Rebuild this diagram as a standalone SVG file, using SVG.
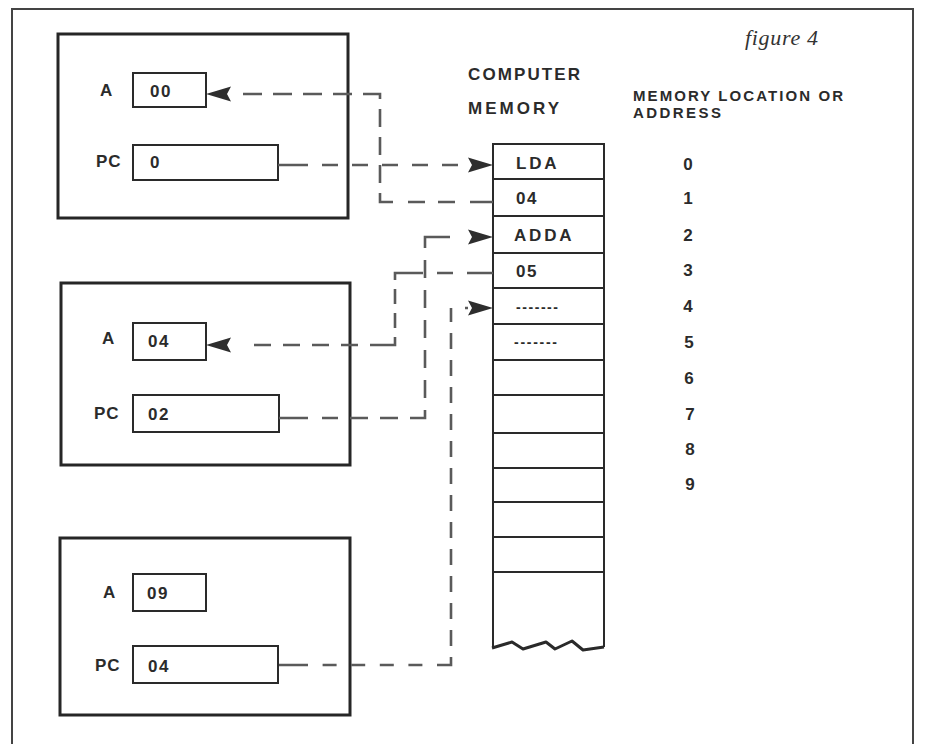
<svg xmlns="http://www.w3.org/2000/svg" xmlns:xlink="http://www.w3.org/1999/xlink" width="925" height="744" viewBox="0 0 925 744">
<style>
.frame{fill:none;stroke:#444;stroke-width:2}
.outer{fill:none;stroke:#262626;stroke-width:3}
.reg{fill:none;stroke:#2a2a2a;stroke-width:2}
.mem{fill:none;stroke:#2a2a2a;stroke-width:2}
.zig{fill:none;stroke:#2a2a2a;stroke-width:3;stroke-linejoin:round}
.conn{fill:none;stroke:#5a5a5a;stroke-width:2.6;stroke-linecap:butt;stroke-linejoin:miter}
.arr{fill:#2e2e2e}
.t{font-family:"Liberation Sans",Arial,Helvetica,sans-serif;font-weight:bold;fill:#2b2b2b}
.lbl{font-size:17px;letter-spacing:1px}
.val{font-size:17px;letter-spacing:1.5px}
.hdr{font-size:17px}
.hdr2{font-size:15px}
.num{font-size:17px;text-anchor:middle}
.dots{font-size:14px}
.fig{font-family:"Liberation Serif","Times New Roman",serif;font-style:italic;font-size:22px;fill:#333}
</style>
<defs>
<path id="arrowR" d="M0,0 L-25,-7.5 L-21,0 L-25,7.5 Z"/>
</defs>
<rect width="925" height="744" fill="#ffffff"/>
<path class="frame" d="M12,744 V9 H913 V744"/>

<g id="title">
<text class="fig" x="745" y="45" textLength="73" lengthAdjust="spacing">figure 4</text>
</g>

<g id="headers">
<text class="t hdr" x="468" y="80" textLength="112" lengthAdjust="spacing">COMPUTER</text>
<text class="t hdr" x="468" y="114" textLength="91" lengthAdjust="spacing">MEMORY</text>
<text class="t hdr2" x="633" y="101" textLength="210" lengthAdjust="spacing">MEMORY LOCATION OR</text>
<text class="t hdr2" x="633" y="118" textLength="88" lengthAdjust="spacing">ADDRESS</text>
</g>

<g id="state1">
<rect class="outer" x="58" y="34" width="290" height="184"/>
<text class="t lbl" x="100" y="96">A</text>
<rect class="reg" x="133" y="73" width="73" height="34"/>
<text class="t val" x="150" y="97">00</text>
<text class="t lbl" x="96" y="167">PC</text>
<rect class="reg" x="133" y="145" width="145" height="35"/>
<text class="t val" x="150" y="168">0</text>
</g>

<g id="state2">
<rect class="outer" x="61" y="283" width="289" height="182"/>
<text class="t lbl" x="102" y="344">A</text>
<rect class="reg" x="133" y="323" width="73" height="37"/>
<text class="t val" x="148" y="347">04</text>
<text class="t lbl" x="94" y="419">PC</text>
<rect class="reg" x="133" y="395" width="146" height="37"/>
<text class="t val" x="148" y="420">02</text>
</g>

<g id="state3">
<rect class="outer" x="60" y="538" width="290" height="177"/>
<text class="t lbl" x="103" y="598">A</text>
<rect class="reg" x="133" y="574" width="73" height="37"/>
<text class="t val" x="147" y="599">09</text>
<text class="t lbl" x="95" y="671">PC</text>
<rect class="reg" x="133" y="646" width="145" height="37"/>
<text class="t val" x="148" y="672">04</text>
</g>

<g id="memory">
<path class="mem" d="M493,648 V144 H604 V647"/>
<path class="mem" d="M493,179 H604 M493,216 H604 M493,253 H604 M493,288 H604 M493,324 H604 M493,360 H604 M493,395 H604 M493,433 H604 M493,468 H604 M493,502 H604 M493,537 H604 M493,572 H604"/>
<path class="zig" d="M492,648 L512,642 L523,649 L546,642 L555,649 L572,641 L583,650 L604,647"/>
<text class="t val" x="516" y="169" textLength="42" lengthAdjust="spacing">LDA</text>
<text class="t val" x="516" y="204" textLength="22" lengthAdjust="spacing">04</text>
<text class="t val" x="514" y="241" textLength="59" lengthAdjust="spacing">ADDA</text>
<text class="t val" x="516" y="277" textLength="22" lengthAdjust="spacing">05</text>
<text class="t dots" x="516" y="312" textLength="42" lengthAdjust="spacing">-------</text>
<text class="t dots" x="514" y="347" textLength="43" lengthAdjust="spacing">-------</text>
</g>

<g id="addresses">
<text class="t num" x="688" y="170">0</text>
<text class="t num" x="688" y="204">1</text>
<text class="t num" x="688" y="241">2</text>
<text class="t num" x="688" y="276">3</text>
<text class="t num" x="688" y="312">4</text>
<text class="t num" x="689" y="348">5</text>
<text class="t num" x="689" y="384">6</text>
<text class="t num" x="690" y="420">7</text>
<text class="t num" x="690" y="455">8</text>
<text class="t num" x="690" y="490">9</text>
</g>

<g id="connectors">
<path class="conn" d="M278,165 H468" stroke-dasharray="30 14 16 14 16 14 16 14 16 14 16 20"/>
<use xlink:href="#arrowR" class="arr" transform="translate(493,165)"/>
<path class="conn" d="M493,202 H380 V94 H235" stroke-dasharray="23 15 17 13 17 15 22 10 18 10 18 10 18 10 22 11 19 11 19 11 19 11 19 20"/>
<use xlink:href="#arrowR" class="arr" transform="translate(206,94) scale(-1,1)"/>
<path class="conn" d="M279,418 H425 V237 H468" stroke-dasharray="29 14 16 12 18 12 18 12 23 12 18 12 18 12 18 12 18 12 18 12 36 100"/>
<use xlink:href="#arrowR" class="arr" transform="translate(493,237)"/>
<path class="conn" d="M493,273 H395 V345 H235" stroke-dasharray="26 14 16 14 35 9 15 9 15 9 33 12 17 12 17 12 17 12 17 40"/>
<use xlink:href="#arrowR" class="arr" transform="translate(206,345) scale(-1,1)"/>
<path class="conn" d="M279,665 H451 V308 H468" stroke-dasharray="29 14.6 14 14.6 14 14.6 14 14.6 14 14.6 22 11 16 11 16 11 16 11 16 11 16 11 16 11 16 11 16 11 16 11 16 11 16 11 16 11 14 14 3 50"/>
<use xlink:href="#arrowR" class="arr" transform="translate(493,308)"/>
</g>
</svg>
